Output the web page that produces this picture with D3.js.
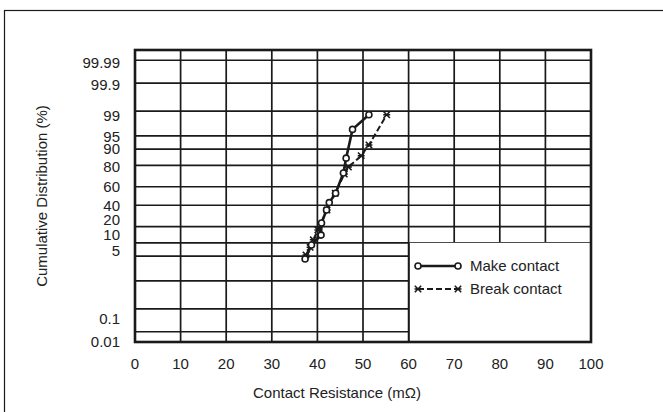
<!DOCTYPE html>
<html><head><meta charset="utf-8">
<script src="https://cdn.jsdelivr.net/npm/d3@7"></script>
<style>
html,body{margin:0;padding:0;background:#fff;}
svg{display:block;font-family:"Liberation Sans",Arial,sans-serif;}
</style></head>
<body><svg id="chart" width="663" height="412"></svg>
<script>
// ---- data ----
const xTicks = [0,10,20,30,40,50,60,70,80,90,100];
const yGrid = [99.99,99.9,99,95,90,80,60,40,20,10,5,1,0.1,0.01];
const yTickLabels = ["99.99","99.9","99","95","90","80","60","40","20","10","5","0.1","0.01"];
const yTickValues = [99.99,99.9,99,95,90,80,60,40,20,10,5,0.1,0.01];
const makeX = [37.3,38.7,40.8,40.9,42.0,42.6,44.0,45.7,46.3,47.7,51.3];
const makeP = [4.2,9.0,14.2,23,35,42.8,53,73.6,85,96.6,98.7];
const breakX = [37.5,38.4,39.1,40.1,42.1,43.9,45.9,46.8,49.6,51.3,55.2];
const breakP = [5.3,8,11.5,17.6,35,53,72.6,78.6,86.5,91.9,98.7];
const seriesNames = ["Make contact","Break contact"];

// ---- layout ----
const L = 135, R = 591, T = 50, B = 342;
const labelShift = [2,1,5,1,-1,1,0,0,-7,-8,-5,10,10];
const ink = "#1a1a1a";

// inverse normal CDF (Acklam)
function probit(p){
  const a=[-3.969683028665376e+01,2.209460984245205e+02,-2.759285104469687e+02,1.383577518672690e+02,-3.066479806614716e+01,2.506628277459239e+00];
  const b=[-5.447609879822406e+01,1.615858368580409e+02,-1.556989798598866e+02,6.680131188771972e+01,-1.328068155288572e+01];
  const c=[-7.784894002430293e-03,-3.223964580411365e-01,-2.400758277161838e+00,-2.549732539343734e+00,4.374664141464968e+00,2.938163982698783e+00];
  const d=[7.784695709041462e-03,3.224671290700398e-01,2.445134137142996e+00,3.754408661907416e+00];
  const pl=0.02425, ph=1-pl; let q,r;
  if(p<pl){q=Math.sqrt(-2*Math.log(p));return (((((c[0]*q+c[1])*q+c[2])*q+c[3])*q+c[4])*q+c[5])/((((d[0]*q+d[1])*q+d[2])*q+d[3])*q+1);}
  if(p<=ph){q=p-0.5;r=q*q;return (((((a[0]*r+a[1])*r+a[2])*r+a[3])*r+a[4])*r+a[5])*q/(((((b[0]*r+b[1])*r+b[2])*r+b[3])*r+b[4])*r+1);}
  q=Math.sqrt(-2*Math.log(1-p));return -(((((c[0]*q+c[1])*q+c[2])*q+c[3])*q+c[4])*q+c[5])/((((d[0]*q+d[1])*q+d[2])*q+d[3])*q+1);
}

const x = d3.scaleLinear().domain([0,100]).range([L,R]);
const z = d3.scaleLinear().domain([-4,4]).range([B,T]);
const y = p => z(probit(p/100));

const svg = d3.select("#chart");

// outer frame (extends beyond the canvas on right/bottom)
svg.append("rect").attr("x",4.5).attr("y",10.5).attr("width",700).attr("height",500)
  .attr("fill","none").attr("stroke",ink).attr("stroke-width",1.2);

// grid
const g = svg.append("g");
g.selectAll("line.h").data(yGrid).join("line")
  .attr("x1",L).attr("x2",R).attr("y1",d=>y(d)).attr("y2",d=>y(d))
  .attr("stroke",ink).attr("stroke-width",1.7);
g.selectAll("line.v").data(xTicks).join("line")
  .attr("x1",d=>x(d)).attr("x2",d=>x(d)).attr("y1",T).attr("y2",B)
  .attr("stroke",ink).attr("stroke-width",1.7);

// legend box (white, covers the grid)
const lgX = 409, lgY = y(10);
svg.append("rect").attr("x",lgX).attr("y",lgY).attr("width",R-lgX).attr("height",B-lgY)
  .attr("fill","#fff");
svg.append("line").attr("x1",lgX).attr("x2",lgX).attr("y1",lgY).attr("y2",B)
  .attr("stroke",ink).attr("stroke-width",1.7);

// plot frame
svg.append("rect").attr("x",L).attr("y",T).attr("width",R-L).attr("height",B-T)
  .attr("fill","none").attr("stroke",ink).attr("stroke-width",2.6);

// axes tick labels
svg.append("g").selectAll("text").data(xTicks).join("text")
  .attr("x",d=>x(d)).attr("y",369).attr("text-anchor","middle")
  .attr("font-size",15).attr("fill","#222").text(d=>d);
svg.append("g").selectAll("text").data(yTickValues).join("text")
  .attr("x",120).attr("y",(d,i)=>y(d)+labelShift[i]+5.3).attr("text-anchor","end")
  .attr("font-size",15).attr("fill","#222").text((d,i)=>yTickLabels[i]);

// axis titles
svg.append("text").attr("x",337).attr("y",398).attr("text-anchor","middle")
  .attr("font-size",15).attr("fill","#222").text("Contact Resistance (m\u03A9)");
svg.append("text").attr("transform","translate(47,196) rotate(-90)").attr("text-anchor","middle")
  .attr("font-size",15).attr("fill","#222").text("Cumulative Distribution (%)");

// series
const line = d3.line().x(d=>x(d[0])).y(d=>y(d[1]));
const makeData = makeX.map((v,i)=>[v,makeP[i]]);
const breakData = breakX.map((v,i)=>[v,breakP[i]]);

function xMark(sel){
  sel.attr("d","M-3.2,-3.2L3.2,3.2M-3.2,3.2L3.2,-3.2M-3.5,0L3.5,0")
    .attr("fill","none").attr("stroke",ink).attr("stroke-width",1.6);
}

svg.append("path").datum(breakData).attr("d",line).attr("fill","none")
  .attr("stroke",ink).attr("stroke-width",2).attr("stroke-dasharray","6,3");
svg.append("g").selectAll("path").data(breakData).join("path")
  .attr("transform",d=>`translate(${x(d[0])},${y(d[1])})`).call(xMark);

svg.append("path").datum(makeData).attr("d",line).attr("fill","none")
  .attr("stroke",ink).attr("stroke-width",2.6);
svg.append("g").selectAll("circle").data(makeData).join("circle")
  .attr("cx",d=>x(d[0])).attr("cy",d=>y(d[1])).attr("r",3)
  .attr("fill","#fff").attr("stroke",ink).attr("stroke-width",1.6);

// legend entries
const lg = svg.append("g");
const ly1 = 266, ly2 = 289, lx1 = 418, lx2 = 458;
lg.append("line").attr("x1",lx1).attr("x2",lx2).attr("y1",ly1).attr("y2",ly1)
  .attr("stroke",ink).attr("stroke-width",2.6);
lg.selectAll("circle").data([lx1,lx2]).join("circle").attr("cx",d=>d).attr("cy",ly1).attr("r",3)
  .attr("fill","#fff").attr("stroke",ink).attr("stroke-width",1.6);
lg.append("line").attr("x1",lx1).attr("x2",lx2).attr("y1",ly2).attr("y2",ly2)
  .attr("stroke",ink).attr("stroke-width",2).attr("stroke-dasharray","6,3");
lg.selectAll("path").data([lx1,lx2]).join("path").attr("transform",d=>`translate(${d},${ly2})`).call(xMark);
lg.selectAll("text").data(seriesNames).join("text")
  .attr("x",470).attr("y",(d,i)=>i?ly2+5:ly1+5).attr("font-size",15).attr("fill","#222").text(d=>d);
</script></body></html>
